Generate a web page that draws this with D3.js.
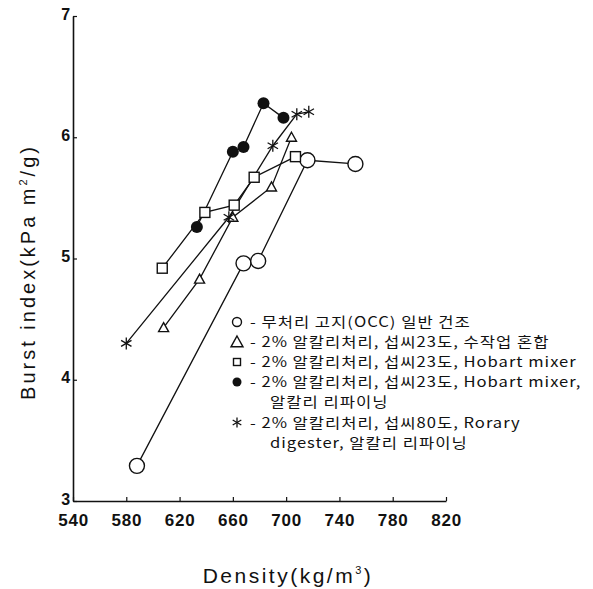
<!DOCTYPE html>
<html>
<head>
<meta charset="utf-8">
<script src="https://cdn.jsdelivr.net/npm/d3@7"></script>
<style>
body { margin: 0; background: #fff; }
svg text { fill: #111; }
</style>
</head>
<body>
<script>
// series data: density (kg/m3) vs burst index (kPa m2/g)
var occX     = [588, 668, 679, 716, 752];
var occY     = [3.29, 4.96, 4.98, 5.81, 5.78];
var handX    = [608, 635, 660, 689, 704];
var handY    = [4.43, 4.83, 5.34, 5.59, 6.00];
var hobartX  = [607, 639, 661, 676, 707];
var hobartY  = [4.92, 5.38, 5.44, 5.67, 5.84];
var refineX  = [633, 660, 668, 683, 698];
var refineY  = [5.26, 5.88, 5.92, 6.28, 6.16];
var digestX  = [580, 657, 690, 708, 717];
var digestY  = [4.30, 5.34, 5.93, 6.19, 6.21];

var xTicks = [540, 580, 620, 660, 700, 740, 780, 820];
var yTicks = [3, 4, 5, 6, 7];

var legendLines = [
	["circle",   "무처리 고지(OCC) 일반 건조"],
	["triangle", "2% 알칼리처리, 섭씨23도, 수작업 혼합"],
	["square",   "2% 알칼리처리, 섭씨23도, Hobart mixer"],
	["filled",   "2% 알칼리처리, 섭씨23도, Hobart mixer,", "알칼리 리파이닝"],
	["star",     "2% 알칼리처리, 섭씨80도, Rorary", "digester, 알칼리 리파이닝"]
];

var svgW = 593, svgH = 589;

var svg = d3.select("body").append("svg")
			.attr("width", svgW)
			.attr("height", svgH)
			.style("font-family", "Arial, 'Liberation Sans', sans-serif");

var xScale = d3.scaleLinear().domain([540, 820]).range([73, 446]);
var yScale = d3.scaleLinear().domain([3, 7]).range([501, 16]);

// axes
var xAxis = d3.axisBottom(xScale).tickValues(xTicks).tickFormat(d3.format("d"))
			  .tickSizeInner(-4).tickSizeOuter(0).tickPadding(13);
var yAxis = d3.axisLeft(yScale).tickValues(yTicks).tickFormat(d3.format("d"))
			  .tickSizeInner(-4).tickSizeOuter(0).tickPadding(2);

var gx = svg.append("g").attr("transform", "translate(0," + yScale(3) + ")").call(xAxis);
var gy = svg.append("g").attr("transform", "translate(" + xScale(540) + ",0)").call(yAxis);

[gx, gy].forEach(function(g) {
	g.select(".domain").attr("stroke", "#111").attr("stroke-width", 1.6);
	g.selectAll(".tick line").attr("stroke", "#111").attr("stroke-width", 1.2);
	g.selectAll(".tick text")
	 .attr("fill", "#111")
	 .style("font-size", "17px")
	 .style("font-weight", "bold")
	 .style("letter-spacing", "0.8px");
});
gy.selectAll(".tick text").attr("dy", "0.2em").style("font-size", "16px");

// axis titles
svg.append("text")
   .attr("transform", "translate(35,272) rotate(-90)")
   .attr("text-anchor", "middle")
   .style("font-size", "20px")
   .style("letter-spacing", "3px")
   .html("Burst index(kPa m<tspan dy='-8' font-size='11'>2</tspan><tspan dy='8'>/g)</tspan>");

svg.append("text")
   .attr("x", 288)
   .attr("y", 583)
   .attr("text-anchor", "middle")
   .style("font-size", "21px")
   .style("letter-spacing", "2.5px")
   .html("Density(kg/m<tspan dy='-9' font-size='11'>3</tspan><tspan dy='9'>)</tspan>");

// symbol drawing
function drawMarker(g, type, x, y, big) {
	if (type == "circle") {
		g.append("circle").attr("cx", x).attr("cy", y).attr("r", big ? 7.5 : 4.5)
		 .attr("fill", "#fff").attr("stroke", "#111").attr("stroke-width", 1.4);
	} else if (type == "filled") {
		g.append("circle").attr("cx", x).attr("cy", y).attr("r", big ? 6 : 4.5)
		 .attr("fill", "#111");
	} else if (type == "triangle") {
		var s = big ? 5 : 6;
		g.append("path")
		 .attr("d", "M" + x + "," + (y - s) + "L" + (x + s) + "," + (y + s * 0.8) + "L" + (x - s) + "," + (y + s * 0.8) + "Z")
		 .attr("fill", "#fff").attr("stroke", "#111").attr("stroke-width", 1.4);
	} else if (type == "square") {
		var h = big ? 5 : 3.5;
		g.append("rect").attr("x", x - h).attr("y", y - h).attr("width", 2 * h).attr("height", 2 * h)
		 .attr("fill", "#fff").attr("stroke", "#111").attr("stroke-width", 1.4);
	} else if (type == "star") {
		var r = big ? 6 : 5;
		for (var k = 0; k < 3; k++) {
			var a = Math.PI / 2 + k * Math.PI / 3;
			g.append("line")
			 .attr("x1", x - r * Math.cos(a)).attr("y1", y - r * Math.sin(a))
			 .attr("x2", x + r * Math.cos(a)).attr("y2", y + r * Math.sin(a))
			 .attr("stroke", "#111").attr("stroke-width", 1.3);
		}
	}
}

var series = [
	{ type: "circle",   xs: occX,    ys: occY },
	{ type: "triangle", xs: handX,   ys: handY },
	{ type: "square",   xs: hobartX, ys: hobartY },
	{ type: "filled",   xs: refineX, ys: refineY },
	{ type: "star",     xs: digestX, ys: digestY }
];

var line = d3.line()
			 .x(function(d) { return xScale(d[0]); })
			 .y(function(d) { return yScale(d[1]); });

series.forEach(function(s) {
	var pts = d3.zip(s.xs, s.ys);
	svg.append("path").datum(pts)
	   .attr("d", line)
	   .attr("fill", "none")
	   .attr("stroke", "#111")
	   .attr("stroke-width", 1.3);
});

series.forEach(function(s) {
	var g = svg.append("g");
	d3.zip(s.xs, s.ys).forEach(function(p) {
		drawMarker(g, s.type, xScale(p[0]), yScale(p[1]), true);
	});
});

// legend (text stretched sideways so it stays wide without growing taller)
var legY = 322;
var lg = svg.append("g")
			.style("font-family", "'Noto Sans CJK KR', sans-serif")
			.style("font-size", "13.5px")
			.style("letter-spacing", "0.8px");
function legendText(x, y, t) {
	lg.append("text")
	  .attr("transform", "translate(" + x + "," + y + ") scale(1.23,1.05)")
	  .text(t);
}
legendLines.forEach(function(item) {
	drawMarker(lg, item[0], 237, legY, false);
	legendText(250, legY + 5, "- " + item[1]);
	legY += 20;
	if (item.length > 2) {
		legendText(270, legY + 5, item[2]);
		legY += 20.5;
	}
});
</script>
</body>
</html>
